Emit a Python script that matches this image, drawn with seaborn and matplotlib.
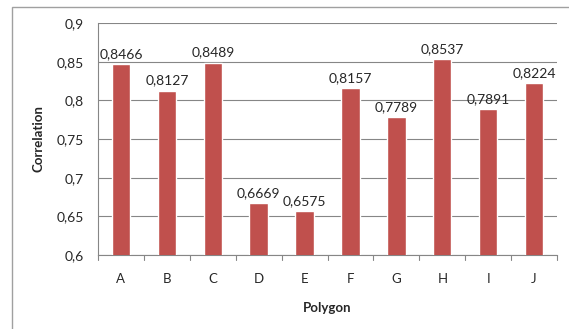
import matplotlib
matplotlib.use("Agg")
import matplotlib.pyplot as plt
import seaborn as sns
import pandas as pd
from matplotlib.patches import Rectangle

polygons = ['A', 'B', 'C', 'D', 'E', 'F', 'G', 'H', 'I', 'J']
correlation = [0.8466, 0.8127, 0.8489, 0.6669, 0.6575, 0.8157, 0.7789, 0.8537, 0.7891, 0.8224]
yticks = [0.6, 0.65, 0.7, 0.75, 0.8, 0.85, 0.9]

data = pd.DataFrame({'Polygon': polygons, 'Correlation': correlation})

sns.set_style('white')
plt.rcParams['font.family'] = ['Lato', 'DejaVu Sans']

fig = plt.figure(figsize=(5.69, 3.29), dpi=100)
ax = fig.add_axes([98 / 569, 1 - 255 / 329, 459 / 569, 232 / 329])

sns.barplot(data=data, x='Polygon', y='Correlation', color='#C0504D',
            width=0.4, saturation=1, ax=ax, zorder=3)

ax.set_ylim(0.6, 0.9)
ax.set_yticks(yticks)
ax.set_yticklabels([f"{v:g}".replace('.', ',') for v in yticks], fontsize=10)
ax.set_xlim(-0.5, len(polygons) - 0.5)
ax.tick_params(axis='x', labelsize=9.5, length=0, pad=13)
ax.tick_params(axis='y', length=4, color='#868686', pad=6)
ax.yaxis.grid(True, color='#868686', linewidth=0.8, zorder=0)

# category boundary ticks on x axis
for i in range(len(polygons) + 1):
    ax.plot([i - 0.5, i - 0.5], [0.6, 0.6 - 0.006], color='#868686',
            linewidth=0.8, clip_on=False)

for i, v in enumerate(correlation):
    ax.text(i, v + 0.005, f"{v:.4f}".replace('.', ','), ha='center', va='bottom',
            fontsize=10)

for side in ['top', 'right']:
    ax.spines[side].set_visible(False)
for side in ['left', 'bottom']:
    ax.spines[side].set_color('#868686')
    ax.spines[side].set_linewidth(0.8)

ax.set_xlabel('Polygon', fontsize=9.5, fontweight='bold', labelpad=12)
ax.set_ylabel('Correlation', fontsize=9.5, fontweight='bold', labelpad=9)

# outer chart frame
fig.patches.append(Rectangle((12 / 569, -0.1), 1.2, 1 - 7 / 329 + 0.1,
                             transform=fig.transFigure, fill=False,
                             edgecolor='#A0A0A0', linewidth=1))

fig.savefig('out.png', dpi=100)
